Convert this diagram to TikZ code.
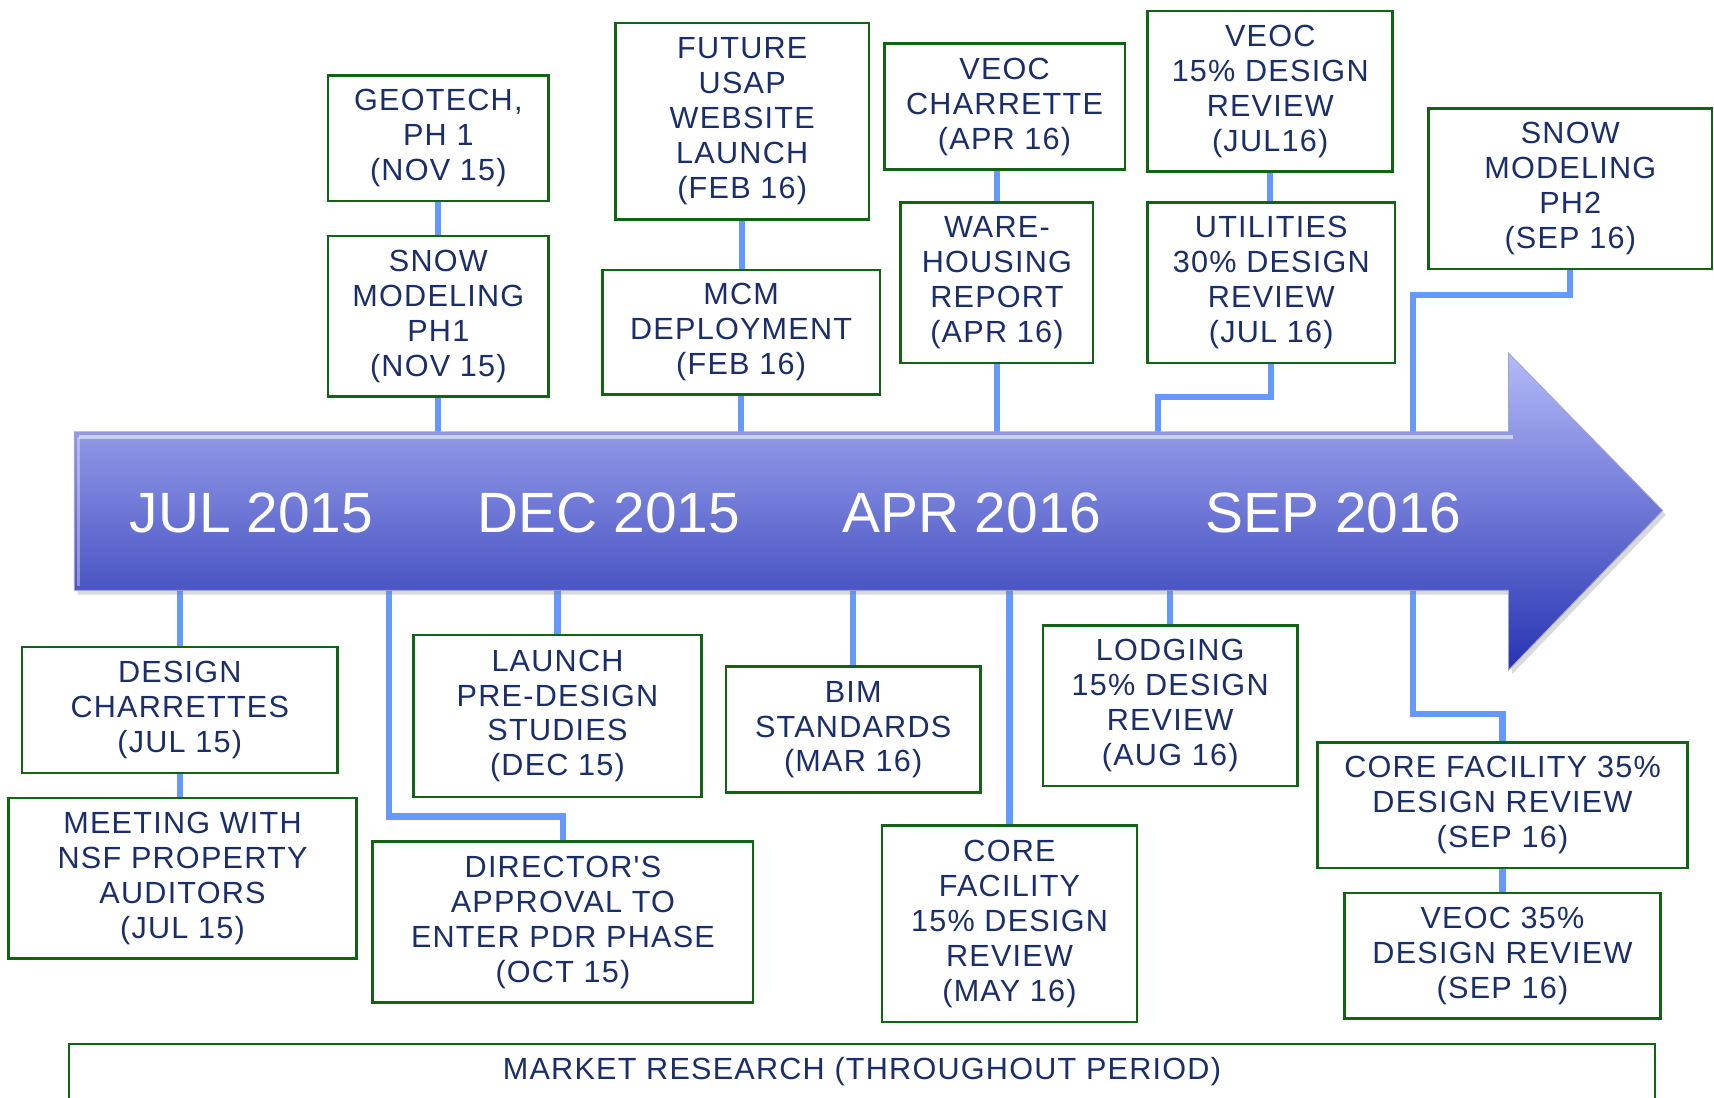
\documentclass[tikz,border=0pt]{standalone}
\usepackage{fontspec}
\setmainfont{Liberation Sans}
\newfontfamily\boxfont[LetterSpace=4.0]{Liberation Sans}
\usetikzlibrary{shadows}
\definecolor{boxgreen}{RGB}{16,100,20}
\definecolor{navytext}{RGB}{26,46,107}
\definecolor{connblue}{RGB}{102,153,255}
\definecolor{arrtop}{RGB}{179,186,247}
\definecolor{arrbot}{RGB}{39,51,179}
\definecolor{arredge}{RGB}{160,165,205}
\pgfdeclarelayer{background}
\pgfsetlayers{background,main}
\newcommand{\tlbox}[6]{\node[tlbox, minimum width={(#4-#2)*0.5pt}, minimum height={(#5-#3)*0.5pt}]
  (#1) at ({(#2+#4)/2},{(#3+#5)/2}) {#6};}
\begin{document}
\begin{tikzpicture}[x=0.5pt,y=-0.5pt,
  tlbox/.style={draw=boxgreen, line width=1.2pt, fill=white, text=navytext, align=center,
    font=\boxfont\fontsize{14pt}{16pt}\selectfont, inner sep=0pt},
  conn/.style={draw=connblue, line width=2.8pt},
  datelbl/.style={text=white, font=\fontsize{26pt}{30pt}\selectfont, inner sep=0pt}]
\clip (0,0) rectangle (1568,1004);

% timeline arrow
\path[draw=arredge, line width=0.4pt, top color=arrtop, bottom color=arrbot,
  drop shadow={opacity=0.3, shadow xshift=1.5pt, shadow yshift=-2pt}]
  (68,395) -- (1380,395) -- (1380,323) -- (1521,467) -- (1380,613) -- (1380,540) -- (68,540) -- cycle;
\draw[white, opacity=0.55, line width=1.6pt] (72,400) -- (1384,400);
\draw[white, opacity=0.35, line width=1.6pt] (72,400) -- (72,536);
\coordinate (atop) at (0,395);
\coordinate (abot) at (0,540);

\node[datelbl] (d1) at (230,469) {JUL 2015};
\node[datelbl] (d2) at (557,469) {DEC 2015};
\node[datelbl] (d3) at (889,469) {APR 2016};
\node[datelbl] (d4) at (1220,469) {SEP 2016};

% top boxes
\tlbox{geo}{300}{69}{502}{184}{GEOTECH,\\PH 1\\(NOV 15)}
\tlbox{snowa}{300}{216}{502}{363}{SNOW\\MODELING\\PH1\\(NOV 15)}
\tlbox{usap}{563}{21}{795}{201}{FUTURE\\USAP\\WEBSITE\\LAUNCH\\(FEB 16)}
\tlbox{mcm}{551}{247}{805}{361}{MCM\\DEPLOYMENT\\(FEB 16)}
\tlbox{veocch}{809}{40}{1029}{155}{VEOC\\CHARRETTE\\(APR 16)}
\tlbox{ware}{824}{185}{1000}{332}{WARE-\\HOUSING\\REPORT\\(APR 16)}
\tlbox{veocf}{1050}{10}{1274}{157}{VEOC\\15\% DESIGN\\REVIEW\\(JUL16)}
\tlbox{util}{1050}{185}{1276}{332}{UTILITIES\\30\% DESIGN\\REVIEW\\(JUL 16)}
\tlbox{snowb}{1307}{99}{1566}{246}{SNOW\\MODELING\\PH2\\(SEP 16)}

% bottom boxes
\tlbox{dchar}{20}{592}{309}{707}{DESIGN\\CHARRETTES\\(JUL 15)}
\tlbox{meet}{8}{730}{326}{877}{MEETING WITH\\NSF PROPERTY\\AUDITORS\\(JUL 15)}
\tlbox{launch}{378}{581}{642}{729}{LAUNCH\\PRE-DESIGN\\STUDIES\\(DEC 15)}
\tlbox{director}{341}{770}{689}{917}{DIRECTOR'S\\APPROVAL TO\\ENTER PDR PHASE\\(OCT 15)}
\tlbox{bim}{664}{610}{897}{725}{BIM\\STANDARDS\\(MAR 16)}
\tlbox{coref}{807}{755}{1040}{935}{CORE\\FACILITY\\15\% DESIGN\\REVIEW\\(MAY 16)}
\tlbox{lodg}{954}{572}{1187}{719}{LODGING\\15\% DESIGN\\REVIEW\\(AUG 16)}
\tlbox{coret}{1205}{679}{1544}{794}{CORE FACILITY 35\%\\DESIGN REVIEW\\(SEP 16)}
\tlbox{veoct}{1230}{817}{1519}{932}{VEOC 35\%\\DESIGN REVIEW\\(SEP 16)}
\tlbox{market}{63}{955}{1514}{1006}{MARKET RESEARCH (THROUGHOUT PERIOD)}

% connectors
\coordinate (uelb) at (1059,363);
\coordinate (selb) at (1293,270);
\coordinate (delb) at (356,747);
\coordinate (celb) at (1293,653);
\begin{pgfonlayer}{background}
\draw[conn] (geo.south) -- (snowa.north);
\draw[conn] (snowa.south) -- (snowa.south |- atop);
\draw[conn] (usap.south) -- (usap.south |- mcm.north);
\draw[conn] (mcm.south) -- (mcm.south |- atop);
\draw[conn] (ware.north) -- (ware.north |- veocch.south);
\draw[conn] (ware.south) -- (ware.south |- atop);
\draw[conn] (veocf.south) -- (veocf.south |- util.north);
\draw[conn] (util.south) |- (uelb) -- (uelb |- atop);
\draw[conn] (snowb.south) |- (selb) -- (selb |- atop);
\draw[conn] (dchar.north |- abot) -- (dchar.north);
\draw[conn] (dchar.south) -- (dchar.south |- meet.north);
\draw[conn] (launch.north |- abot) -- (launch.north);
\draw[conn] (delb |- abot) -- (delb) -| (director.north);
\draw[conn] (bim.north |- abot) -- (bim.north);
\draw[conn] (coref.north |- abot) -- (coref.north);
\draw[conn] (lodg.north |- abot) -- (lodg.north);
\draw[conn] (celb |- abot) -- (celb) -| (coret.north);
\draw[conn] (coret.south) -- (coret.south |- veoct.north);
\end{pgfonlayer}
\end{tikzpicture}
\end{document}
